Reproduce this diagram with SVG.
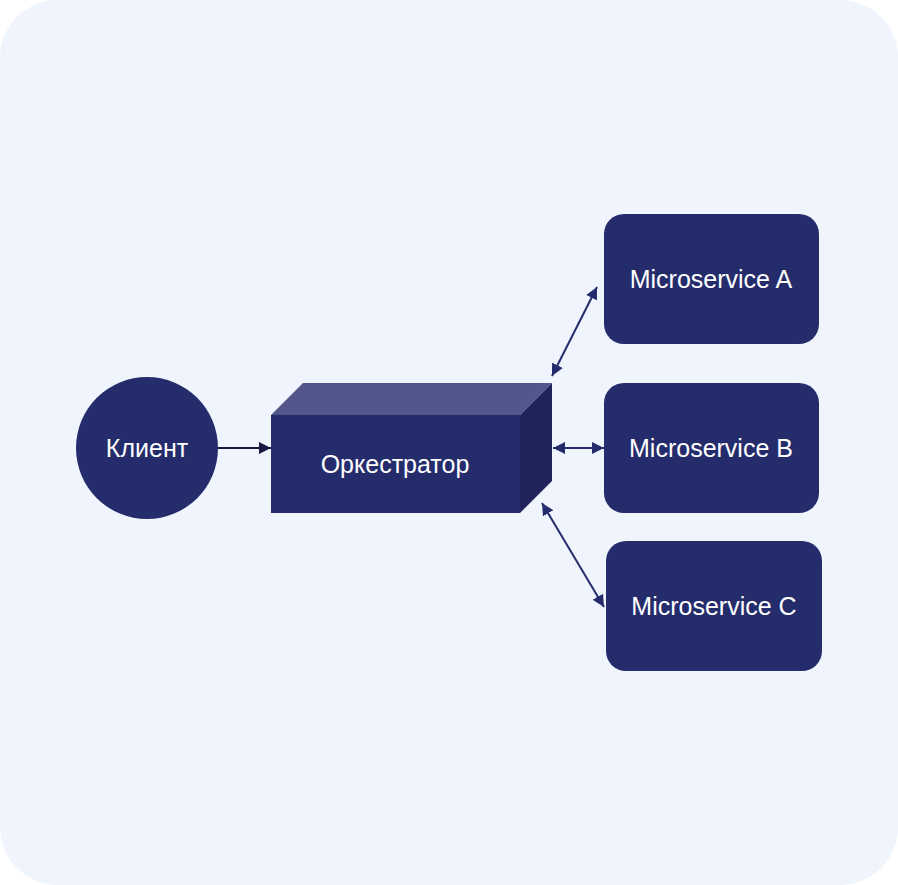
<svg xmlns="http://www.w3.org/2000/svg" width="898" height="885" viewBox="0 0 898 885">
<style>
.lbl{font-family:"Liberation Sans",Arial,sans-serif;font-size:25px;fill:#ffffff;text-anchor:middle}
.svc{fill:#252C6C}
.conn{stroke:#252C6C;stroke-width:2;fill:none}
</style>
<defs>
<marker id="ahd" viewBox="0 0 10 10" refX="10" refY="5" markerWidth="12" markerHeight="12" markerUnits="userSpaceOnUse" orient="auto">
<path d="M0,0 L10,5 L0,10 Z" fill="#1a1a40"/>
</marker>
<marker id="ah2" viewBox="0 0 10 10" refX="10" refY="5" markerWidth="12" markerHeight="12" markerUnits="userSpaceOnUse" orient="auto-start-reverse">
<path d="M0,0 L10,5 L0,10 Z" fill="#252C6C"/>
</marker>
</defs>
<rect x="0" y="0" width="898" height="885" rx="58" fill="#EFF4FD"/>
<g id="connectors">
<line x1="218" y1="448" x2="271" y2="448" stroke="#1a1a40" stroke-width="2" marker-end="url(#ahd)"/>
<line class="conn" x1="552" y1="376" x2="597" y2="287" marker-start="url(#ah2)" marker-end="url(#ah2)"/>
<line class="conn" x1="553" y1="448" x2="604" y2="448" marker-start="url(#ah2)" marker-end="url(#ah2)"/>
<line class="conn" x1="542" y1="503" x2="604" y2="607" marker-start="url(#ah2)" marker-end="url(#ah2)"/>
</g>
<g id="client">
<circle cx="147" cy="448" r="71" class="svc"/>
<text x="147" y="457" class="lbl">Клиент</text>
</g>
<g id="orchestrator">
<polygon points="271,415 303,383 552,383 520,415" fill="#52568A"/>
<polygon points="520,415 552,383 552,481 520,513" fill="#20245A"/>
<rect x="271" y="415" width="249" height="98" class="svc"/>
<text x="395" y="473" class="lbl">Оркестратор</text>
</g>
<g id="msA">
<rect x="604" y="214" width="215" height="130" rx="20" class="svc"/>
<text x="711" y="288" class="lbl">Microservice A</text>
</g>
<g id="msB">
<rect x="604" y="383" width="215" height="130" rx="20" class="svc"/>
<text x="711" y="457" class="lbl">Microservice B</text>
</g>
<g id="msC">
<rect x="606" y="541" width="216" height="130" rx="20" class="svc"/>
<text x="714" y="615" class="lbl">Microservice C</text>
</g>
</svg>
